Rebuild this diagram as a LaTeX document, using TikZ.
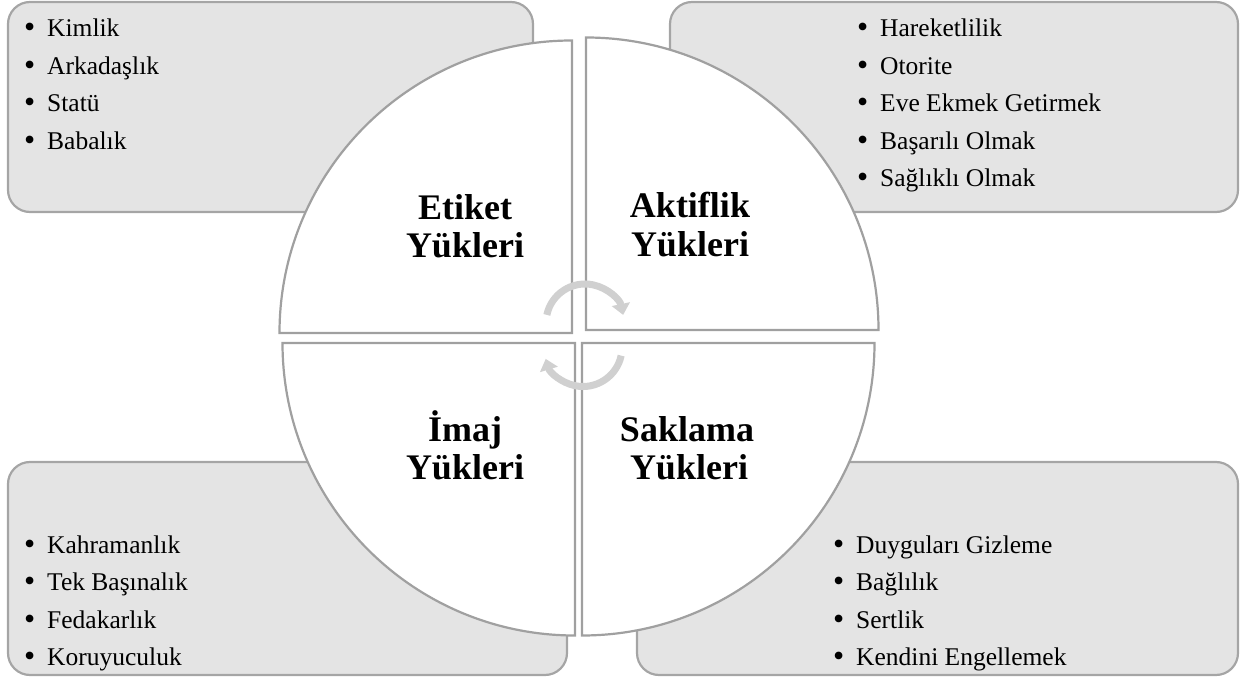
\documentclass[tikz,border=0pt]{standalone}
\usepackage{fontspec}
\setmainfont{Liberation Serif}
\usetikzlibrary{arrows.meta}
\definecolor{boxfill}{HTML}{E4E4E4}
\definecolor{boxline}{HTML}{A5A5A5}
\definecolor{quadline}{HTML}{A0A0A0}
\definecolor{cycgray}{HTML}{D0D0D0}
\newcommand{\blt}{\makebox[23pt][l]{\raisebox{-1pt}{\scalebox{1.25}{•}}}}
\begin{document}
\begin{tikzpicture}[x=1pt,y=-1pt,
  listbox/.style={draw=boxline, fill=boxfill, line width=2.2pt, rounded corners=22pt},
  quad/.style={draw=quadline, fill=white, line width=2.2pt},
  item/.style={anchor=base west, inner sep=0pt, font=\fontsize{25.5}{37.5}\selectfont},
  qlabel/.style={anchor=base, inner sep=0pt, font=\fontsize{36}{38}\selectfont\bfseries},
  cyc/.style={draw=cycgray, line width=7pt, -{Triangle[width=18pt,length=11pt]}}
]
\useasboundingbox (0,0) rectangle (1245,679);
% list boxes
\draw[listbox] (8,2) rectangle (533,212);
\draw[listbox] (670,2) rectangle (1238,212);
\draw[listbox] (8,462) rectangle (567,675);
\draw[listbox] (637,462) rectangle (1238,675);
% list items
\foreach \t [count=\i] in {Kimlik, Arkadaşlık, Statü, Babalık}
  \node[item] (tl\i) at (24,{37+(\i-1)*37.5}) {\blt\t};
\foreach \t [count=\i] in {Hareketlilik, Otorite, Eve Ekmek Getirmek, Başarılı Olmak, Sağlıklı Olmak}
  \node[item] (tr\i) at (857,{37+(\i-1)*37.5}) {\blt\t};
\foreach \t [count=\i] in {Kahramanlık, Tek Başınalık, Fedakarlık, Koruyuculuk}
  \node[item] (bl\i) at (24,{553+(\i-1)*37.5}) {\blt\t};
\foreach \t [count=\i] in {Duyguları Gizleme, Bağlılık, Sertlik, Kendini Engellemek}
  \node[item] (br\i) at (833,{553+(\i-1)*37.5}) {\blt\t};
% quadrants
\draw[quad] (572,333) -- ++(-292.5,0) arc[start angle=180,end angle=270,radius=292.5] -- cycle;
\draw[quad] (586,330) -- ++(0,-292.5) arc[start angle=270,end angle=360,radius=292.5] -- cycle;
\draw[quad] (582,343) -- ++(292.5,0) arc[start angle=0,end angle=90,radius=292.5] -- cycle;
\draw[quad] (575,343) -- ++(0,292.5) arc[start angle=90,end angle=180,radius=292.5] -- cycle;
% quadrant labels
\node[qlabel] (etiket1) at (465,220) {Etiket};
\node[qlabel] (etiket2) at (465,258) {Yükleri};
\node[qlabel] (aktif1) at (690,218) {Aktiflik};
\node[qlabel] (aktif2) at (690,256) {Yükleri};
\node[qlabel] (imaj1) at (465,441) {İmaj};
\node[qlabel] (imaj2) at (465,479) {Yükleri};
\node[qlabel] (sakla1) at (687,441) {Saklama};
\node[qlabel] (sakla2) at (689,479) {Yükleri};
% cycle arrows
\draw[cyc] (585,323) ++(192:39) arc[start angle=192,end angle=348,radius=39];
\draw[cyc] (583,347.5) ++(12:39) arc[start angle=12,end angle=163,radius=39];
\end{tikzpicture}
\end{document}
